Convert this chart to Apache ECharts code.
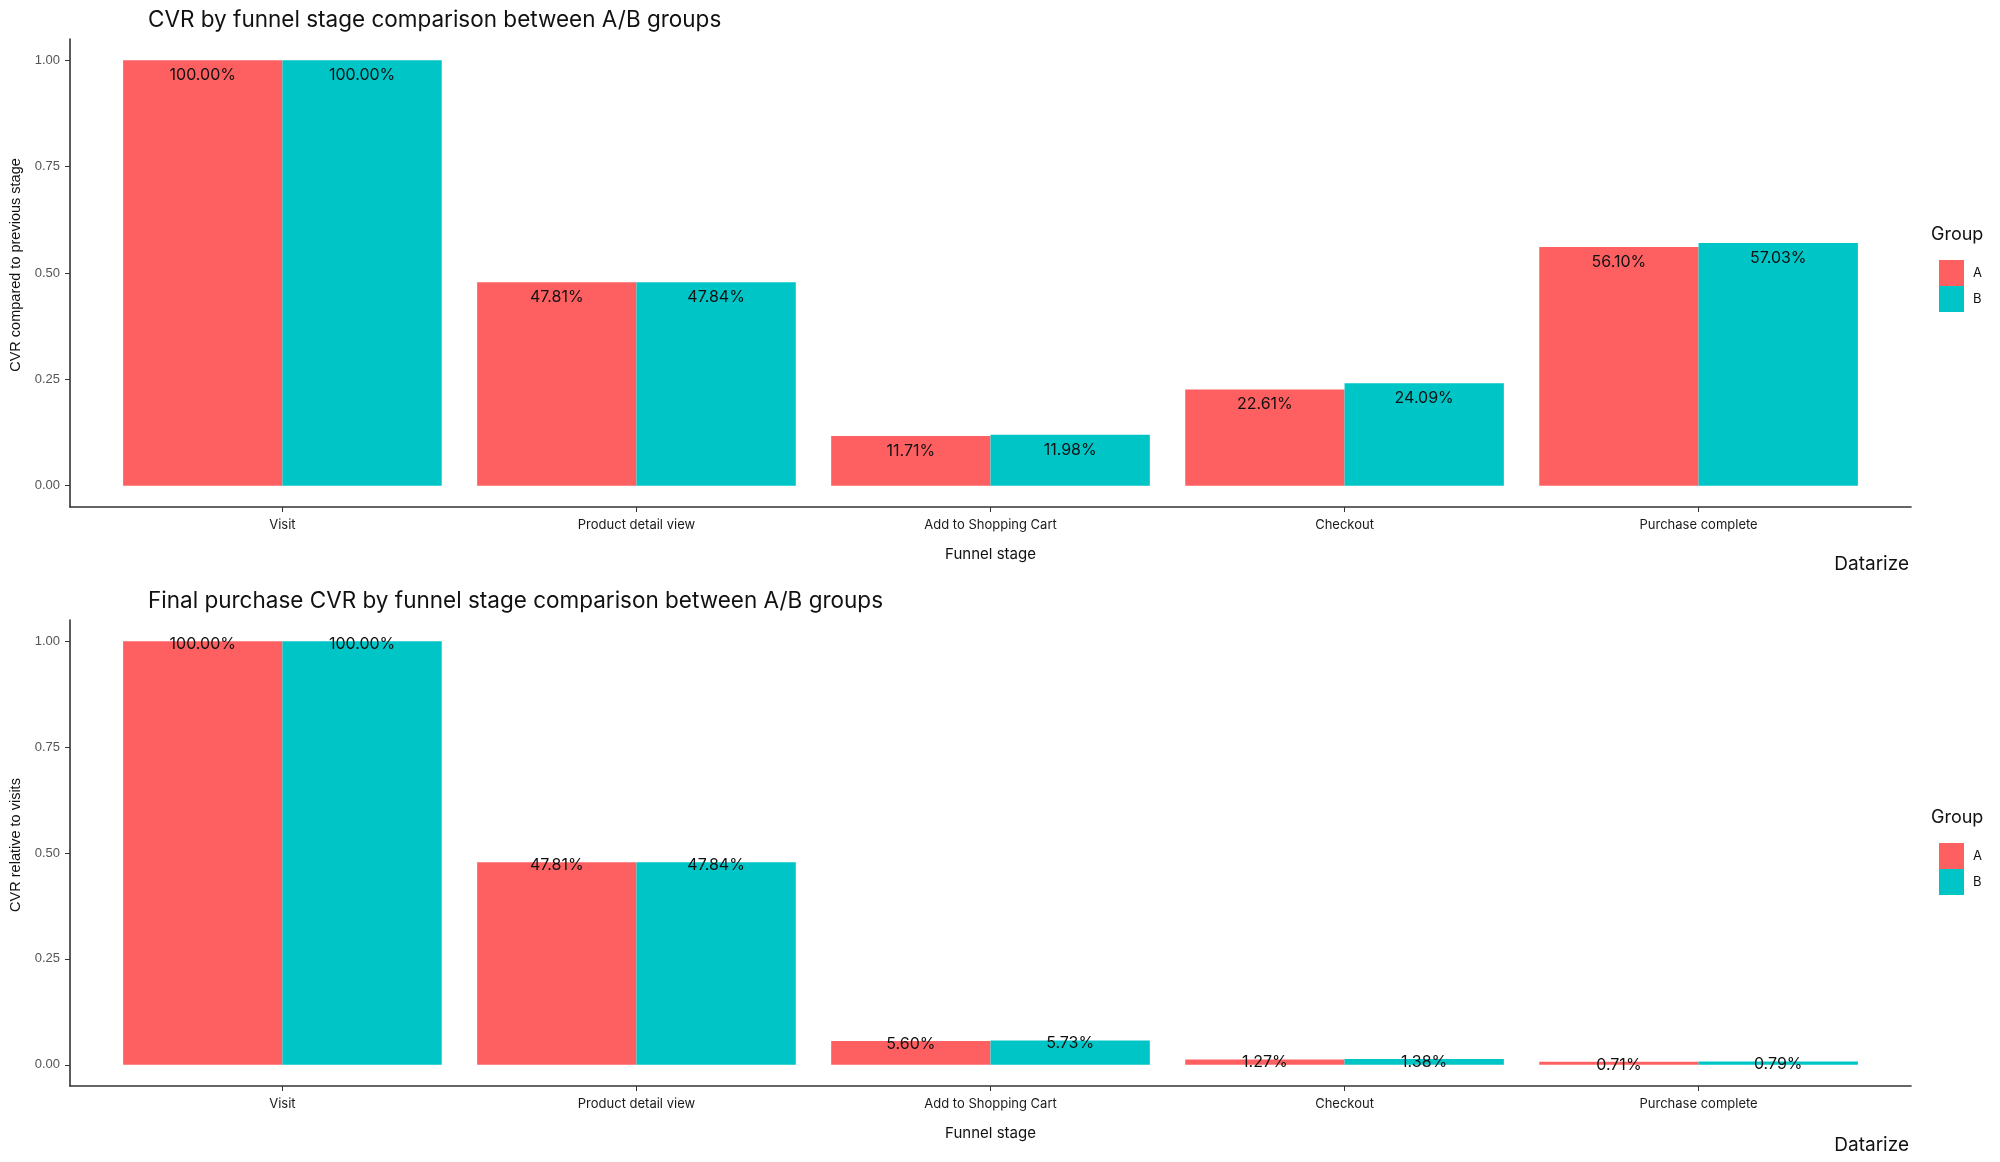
<!DOCTYPE html>
<html>
<head>
<meta charset="utf-8">
<title>CVR by funnel stage</title>
<script src="https://cdn.jsdelivr.net/npm/echarts@6/dist/echarts.min.js"></script>
<style>
  html, body { margin: 0; padding: 0; background: #fff; }
  #chart { width: 2000px; height: 1162px; }
</style>
</head>
<body>
<div id="chart"></div>
<script>
// funnel stages (x axis)
const stages = ['Visit', 'Product detail view', 'Add to Shopping Cart', 'Checkout', 'Purchase complete']
const groups = ['A', 'B']

// CVR compared to previous stage
const stepA = [1.0, 0.4781, 0.1171, 0.2261, 0.5610]
const stepB = [1.0, 0.4784, 0.1198, 0.2409, 0.5703]

// CVR relative to visits
const totalA = [1.0, 0.4781, 0.0560, 0.0127, 0.0071]
const totalB = [1.0, 0.4784, 0.0573, 0.0138, 0.0079]

const yTicks = [0, 0.25, 0.5, 0.75, 1.0]

const colorA = '#FE6062'
const colorB = '#00C5C7'
const font = 'Inter'

const myChart = echarts.init(document.getElementById('chart'))

function xAxisFor(gridIndex) {
  return {
    type: 'value',
    gridIndex: gridIndex,
    min: 0.4,
    max: 5.6,
    name: 'Funnel stage',
    nameLocation: 'middle',
    nameGap: 40,
    nameTextStyle: { fontFamily: font, fontSize: 15, color: '#111' },
    axisLine: { onZero: false, lineStyle: { color: '#333', width: 1.6 } },
    axisTick: { customValues: [1, 2, 3, 4, 5], length: 5, lineStyle: { color: '#333' } },
    axisLabel: {
      customValues: [1, 2, 3, 4, 5],
      margin: 12,
      fontFamily: font,
      fontSize: 13,
      color: '#1a1a1a',
      formatter: v => stages[Math.round(v) - 1]
    },
    splitLine: { show: false }
  }
}

function yAxisFor(gridIndex, title) {
  return {
    type: 'value',
    gridIndex: gridIndex,
    min: -0.05,
    max: 1.05,
    name: title,
    nameLocation: 'middle',
    nameGap: 47,
    nameTextStyle: { fontFamily: 'Liberation Sans', fontSize: 14.5, color: '#111', padding: [0, 0, 0, 16] },
    axisLine: { show: true, onZero: false, lineStyle: { color: '#333', width: 1.6 } },
    axisTick: { show: true, customValues: yTicks, length: 5, lineStyle: { color: '#333' } },
    axisLabel: {
      customValues: yTicks,
      margin: 10,
      fontFamily: 'Liberation Sans',
      fontSize: 13,
      color: '#555',
      formatter: v => v.toFixed(2)
    },
    splitLine: { show: false }
  }
}

function barSeries(name, values, color, gridIndex, labelOffset) {
  return {
    name: name,
    type: 'bar',
    xAxisIndex: gridIndex,
    yAxisIndex: gridIndex,
    barWidth: '45%',
    barGap: '0%',
    itemStyle: { color: color },
    label: {
      show: true,
      position: ['50%', 0],
      align: 'center',
      verticalAlign: 'middle',
      offset: [0, labelOffset],
      fontFamily: font,
      fontSize: 16,
      color: '#111',
      formatter: p => (p.value[1] * 100).toFixed(2) + '%'
    },
    data: values.map((v, i) => [i + 1, v])
  }
}

function legendFor(top) {
  return {
    orient: 'vertical',
    left: 1934,
    top: top,
    icon: 'rect',
    itemWidth: 25,
    itemHeight: 26,
    itemGap: 0,
    selectedMode: false,
    data: groups,
    textStyle: { fontFamily: font, fontSize: 13, color: '#111', padding: [0, 0, 0, 4] }
  }
}

const option = {
  animation: false,
  backgroundColor: '#fff',
  title: [
    { text: 'CVR by funnel stage comparison between A/B groups', left: 143, top: 4,
      textStyle: { fontFamily: font, fontSize: 22.5, fontWeight: 'normal', color: '#111' } },
    { text: 'Final purchase CVR by funnel stage comparison between A/B groups', left: 143, top: 585,
      textStyle: { fontFamily: font, fontSize: 22.5, fontWeight: 'normal', color: '#111' } },
    { text: 'Group', left: 1926, top: 221,
      textStyle: { fontFamily: font, fontSize: 18, fontWeight: 'normal', color: '#111' } },
    { text: 'Group', left: 1926, top: 804,
      textStyle: { fontFamily: font, fontSize: 18, fontWeight: 'normal', color: '#111' } },
    { text: 'Datarize', right: 86, top: 550,
      textStyle: { fontFamily: font, fontSize: 19, fontWeight: 'normal', color: '#111' } },
    { text: 'Datarize', right: 86, top: 1131,
      textStyle: { fontFamily: font, fontSize: 19, fontWeight: 'normal', color: '#111' } }
  ],
  legend: [legendFor(255), legendFor(838)],
  grid: [
    { left: 68, right: 89, top: 39, bottom: 655 },
    { left: 68, right: 89, top: 620, bottom: 76 }
  ],
  xAxis: [xAxisFor(0), xAxisFor(1)],
  yAxis: [
    yAxisFor(0, 'CVR compared to previous stage'),
    yAxisFor(1, 'CVR relative to visits')
  ],
  series: [
    barSeries('A', stepA, colorA, 0, 15),
    barSeries('B', stepB, colorB, 0, 15),
    barSeries('A', totalA, colorA, 1, 3),
    barSeries('B', totalB, colorB, 1, 3)
  ]
}

myChart.setOption(option)
</script>
</body>
</html>
